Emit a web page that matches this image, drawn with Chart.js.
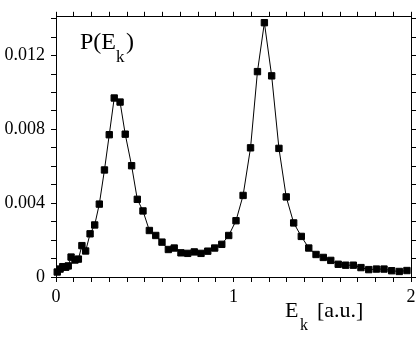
<!DOCTYPE html>
<html>
<head>
    <meta charset="utf-8" />
    <title>P(Ek)</title>
    <script src="https://cdn.jsdelivr.net/npm/chart.js@4"></script>
    <style>
        html, body { margin: 0; padding: 0; background: #fff; }
        #wrap { width: 420px; height: 340px; }
    </style>
</head>
<body>
    <div id="wrap"><canvas id="probChart" width="420" height="340"></canvas></div>

    <script>
        // Kinetic energy values (a.u.)
        const energy = [
            0.007, 0.023, 0.038, 0.055, 0.069, 0.085, 0.107, 0.126, 0.146, 0.167,
            0.192, 0.218, 0.244, 0.273, 0.300, 0.328, 0.361, 0.390, 0.426, 0.458,
            0.490, 0.526, 0.562, 0.597, 0.633, 0.666, 0.704, 0.742, 0.779, 0.817,
            0.855, 0.894, 0.934, 0.973, 1.014, 1.054, 1.096, 1.135, 1.174, 1.215,
            1.256, 1.297, 1.339, 1.382, 1.424, 1.465, 1.506, 1.548, 1.590, 1.632,
            1.675, 1.718, 1.762, 1.805, 1.848, 1.891, 1.934, 1.977
        ];
        // P(Ek) at each energy
        const prob = [
            0.00027, 0.00043, 0.00056, 0.00053, 0.00060, 0.00108, 0.00092, 0.00097, 0.00170, 0.00141,
            0.00234, 0.00282, 0.00395, 0.00580, 0.00771, 0.00970, 0.00948, 0.00774, 0.00603, 0.00421,
            0.00358, 0.00252, 0.00225, 0.00189, 0.00149, 0.00157, 0.00131, 0.00128, 0.00136, 0.00128,
            0.00140, 0.00157, 0.00177, 0.00225, 0.00305, 0.00442, 0.00700, 0.01113, 0.01378, 0.01090,
            0.00697, 0.00434, 0.00293, 0.00220, 0.00157, 0.00122, 0.00106, 0.00090, 0.00069, 0.00064,
            0.00064, 0.00051, 0.00040, 0.00043, 0.00043, 0.00034, 0.00030, 0.00035
        ];
        // axis ranges and label steps
        const xRange = [0, 2];
        const yRange = [0, 0.0141];
        const xLabelEvery = 1;
        const yLabelEvery = 0.004;

        const serif = '"Liberation Serif", "DejaVu Serif", serif';

        function isMultiple(v, step) {
            const r = v / step;
            return Math.abs(r - Math.round(r)) < 1e-6;
        }

        // shared look for the axis lines and the outward tick marks
        const gridOpts = { drawOnChartArea: false, drawTicks: true, tickLength: 5, color: '#000', tickWidth: 1 };
        const borderOpts = { display: true, color: '#000', width: 1 };

        // draws the P(Ek) label and the Ek [a.u.] axis title with subscripts
        const labelsPlugin = {
            id: 'labels',
            afterDraw(chart) {
                const ctx = chart.ctx;
                ctx.save();
                ctx.fillStyle = '#000';
                ctx.textAlign = 'left';
                ctx.textBaseline = 'alphabetic';

                ctx.font = '24px ' + serif;
                ctx.fillText('P(E', 80, 49);
                ctx.fillText(')', 126, 49);
                ctx.font = '17px ' + serif;
                ctx.fillText('k', 116, 62);

                ctx.font = '22px ' + serif;
                ctx.fillText('E', 285, 317);
                ctx.fillText('[a.u.]', 317, 317);
                ctx.font = '16px ' + serif;
                ctx.fillText('k', 300, 330);
                ctx.restore();
            }
        };

        const points = energy.map((e, i) => ({ x: e, y: prob[i] }));

        new Chart(document.getElementById('probChart').getContext('2d'), {
            type: 'line',
            data: {
                datasets: [{
                    data: points,
                    borderColor: '#000',
                    borderWidth: 1,
                    backgroundColor: '#000',
                    pointStyle: 'rect',
                    pointRadius: 4.5,
                    pointBorderWidth: 1,
                    pointBackgroundColor: '#000',
                    pointBorderColor: '#000',
                    tension: 0,
                    clip: false,
                }],
            },
            options: {
                responsive: false,
                animation: false,
                layout: { padding: 0 },
                plugins: { legend: { display: false }, tooltip: { enabled: false } },
                scales: {
                    x: {
                        type: 'linear', position: 'bottom', min: xRange[0], max: xRange[1],
                        grid: gridOpts, border: borderOpts,
                        ticks: {
                            stepSize: 0.1, autoSkip: false, maxRotation: 0, padding: 4,
                            color: '#000', font: { family: serif, size: 18 },
                            callback: v => isMultiple(v, xLabelEvery) ? String(Math.round(v)) : '',
                        },
                        afterFit: s => { s.height = 63; },
                    },
                    x2: {
                        type: 'linear', position: 'top', min: xRange[0], max: xRange[1],
                        grid: gridOpts, border: borderOpts,
                        ticks: { stepSize: 0.1, autoSkip: false, display: false },
                        afterFit: s => { s.height = 12; },
                    },
                    y: {
                        type: 'linear', position: 'left', min: yRange[0], max: yRange[1],
                        grid: gridOpts, border: borderOpts,
                        ticks: {
                            stepSize: 0.001, autoSkip: false, includeBounds: false, padding: 6,
                            color: '#000', font: { family: serif, size: 18 },
                            callback: v => isMultiple(v, yLabelEvery) ? (Math.abs(v) < 1e-9 ? '0' : v.toFixed(3)) : '',
                        },
                        afterFit: s => { s.width = 56; },
                    },
                    y2: {
                        type: 'linear', position: 'right', min: yRange[0], max: yRange[1],
                        grid: gridOpts, border: borderOpts,
                        ticks: { stepSize: 0.001, autoSkip: false, includeBounds: false, display: false },
                        afterFit: s => { s.width = 9; },
                    },
                },
            },
            plugins: [labelsPlugin],
        });
    </script>
</body>
</html>
